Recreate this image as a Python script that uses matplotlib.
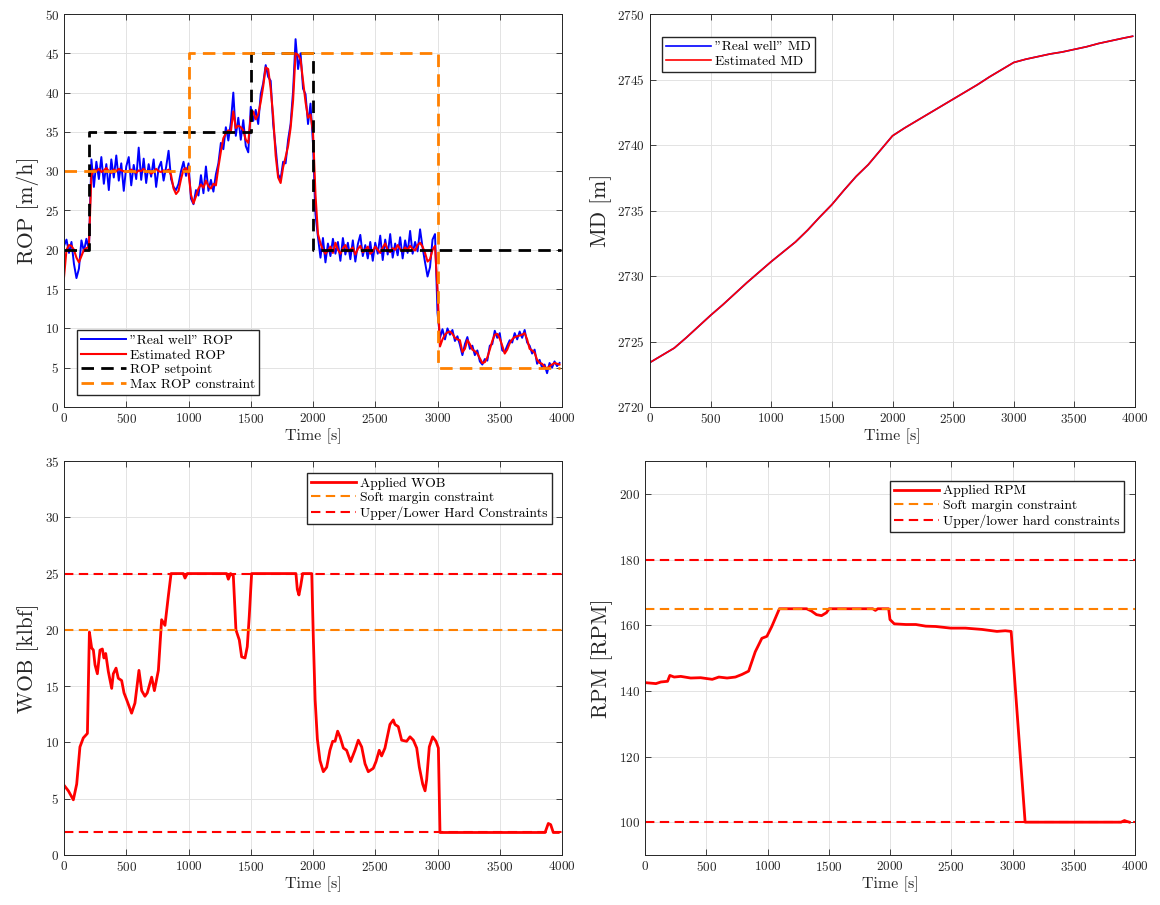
import numpy as np
import matplotlib
matplotlib.use("Agg")
import matplotlib.pyplot as plt

plt.rcParams['font.family'] = 'cmr10'
plt.rcParams['mathtext.fontset'] = 'cm'
plt.rcParams['axes.formatter.use_mathtext'] = True

# ---------------------------------------------------------------
# ROP: sampled every 20 s
# ---------------------------------------------------------------
t_rop = np.arange(0, 4000, 20)

rop_real = [
    20.5, 21.3, 19.6, 21.0, 18.2, 16.4, 17.6, 21.2, 19.8, 21.4,
    20.0, 31.5, 28.0, 31.2, 29.0, 31.8, 28.4, 30.9, 27.6, 31.5,
    29.2, 32.0, 28.8, 31.0, 27.5, 30.6, 31.8, 28.2, 30.8, 29.0,
    33.0, 28.9, 31.6, 28.5, 30.9, 29.3, 31.5, 28.0, 30.4, 31.2,
    28.8, 30.5, 32.6, 29.0, 28.0, 27.6, 28.4, 30.0, 31.2, 29.4,
    31.0, 26.5, 25.8, 27.6, 26.9, 29.5, 27.2, 30.6, 27.5, 28.9,
    27.4, 29.6, 31.0, 33.6, 32.8, 35.6, 33.9, 36.2, 40.0, 34.5,
    36.8, 34.0, 36.5, 33.2, 32.4, 38.2, 36.4, 37.8, 36.0, 39.8,
    41.2, 43.5, 42.0, 41.5, 36.0, 33.0, 29.6, 29.0, 31.2, 31.0,
    34.0, 36.0, 40.2, 46.8, 43.0, 45.0, 40.5, 39.8, 36.0, 38.6,
    33.5, 24.5, 21.6, 19.0, 21.5, 18.4, 20.8, 19.2, 21.4, 19.5,
    21.0, 18.6, 21.5, 19.4, 20.9, 18.8, 21.2, 18.5, 20.7, 21.9,
    19.2, 20.6, 18.9, 21.0, 18.6, 20.9, 19.5, 21.8, 18.7, 21.3,
    19.4, 22.0, 19.0, 20.8, 19.3, 21.6, 18.9, 21.2, 19.6, 22.4,
    19.5, 21.0, 19.8, 22.6, 20.3, 18.4, 16.6, 17.8, 21.3, 22.0,
    12.0, 8.8, 9.9, 8.6, 10.0, 9.2, 9.8, 8.4, 9.0, 7.9,
    6.6, 8.0, 8.9, 7.4, 7.8, 6.6, 7.2, 5.8, 5.4, 6.1,
    5.9, 7.8, 8.0, 9.7, 8.8, 9.4, 7.2, 7.0, 7.8, 8.5,
    8.2, 9.4, 8.6, 9.6, 8.8, 9.8, 8.2, 7.8, 6.8, 7.3,
    5.5, 6.0, 5.0, 5.4, 4.3, 5.6, 5.0, 5.8, 5.2, 5.6,
]

rop_est = [
    16.5, 20.0, 20.6, 20.5, 20.0, 19.0, 18.4, 19.2, 20.0, 20.2,
    20.4, 29.5, 30.2, 30.0, 30.3, 29.9, 30.1, 30.4, 30.0, 29.8,
    30.2, 30.0, 30.3, 30.1, 30.0, 29.9, 30.0, 30.2, 30.0, 29.8,
    30.1, 30.0, 30.3, 29.9, 30.0, 29.7, 29.9, 30.3, 30.0, 29.9,
    30.1, 30.0, 30.2, 29.5, 27.8, 27.1, 27.5, 29.0, 30.2, 30.4,
    29.8, 27.0, 25.9, 26.8, 27.8, 28.3, 27.9, 28.8, 28.1, 27.8,
    28.4, 28.2, 30.5, 32.5, 34.2, 34.8, 35.2, 35.0, 37.6, 35.5,
    35.8, 35.6, 35.2, 34.0, 33.6, 37.0, 37.6, 36.6, 37.2, 38.8,
    40.8, 43.2, 43.0, 40.5, 37.0, 32.0, 29.2, 28.5, 30.5, 31.8,
    33.2, 35.5, 39.0, 45.0, 44.8, 44.2, 41.5, 38.8, 36.8, 37.2,
    35.0, 27.0, 22.0, 20.8, 20.0, 19.5, 19.9, 20.4, 19.6, 20.9,
    20.0, 19.5, 20.2, 20.6, 19.8, 20.0, 20.3, 19.4, 20.1, 20.5,
    19.7, 20.0, 20.4, 19.5, 19.8, 20.4, 20.0, 19.6, 20.3, 20.8,
    20.0, 19.7, 20.2, 20.0, 20.6, 20.1, 19.8, 20.3, 20.0, 20.5,
    20.1, 19.9, 20.6, 20.9, 20.4, 19.6, 18.5, 18.8, 20.0, 20.5,
    15.0, 7.7, 8.6, 9.2, 9.5, 9.6, 9.3, 8.8, 8.6, 8.5,
    7.0, 7.4, 8.5, 8.0, 7.3, 7.1, 6.8, 6.2, 5.6, 5.7,
    6.3, 7.3, 8.4, 9.2, 9.3, 8.7, 7.8, 6.8, 7.3, 8.1,
    8.6, 8.9, 9.0, 9.1, 9.2, 9.4, 8.6, 7.4, 7.2, 6.9,
    6.0, 5.6, 5.5, 5.1, 4.9, 5.2, 5.4, 5.6, 5.5, 5.4,
]

# piecewise-constant references (value holds until next time)
t_setpoint = [0, 200, 1500, 2000, 3990]
rop_setpoint = [20, 35, 45, 20, 20]
t_maxrop = [0, 1000, 3000, 3980]
rop_max = [30, 45, 5, 5]

# ---------------------------------------------------------------
# Measured depth
# ---------------------------------------------------------------
t_md = [0, 100, 200, 300, 400, 500, 600, 700, 800, 900,
        1000, 1100, 1200, 1300, 1400, 1500, 1600, 1700, 1800, 1900,
        2000, 2100, 2200, 2300, 2400, 2500, 2600, 2700, 2800, 2900,
        3000, 3100, 3200, 3300, 3400, 3500, 3600, 3700, 3800, 3900, 3980]
md_real = [2723.4, 2723.95, 2724.5, 2725.3, 2726.15, 2727.0, 2727.8, 2728.65, 2729.5, 2730.3,
           2731.1, 2731.85, 2732.6, 2733.5, 2734.5, 2735.45, 2736.55, 2737.6, 2738.5, 2739.6,
           2740.7, 2741.3, 2741.85, 2742.4, 2742.95, 2743.5, 2744.05, 2744.6, 2745.2, 2745.75,
           2746.3, 2746.55, 2746.75, 2746.95, 2747.1, 2747.3, 2747.5, 2747.75, 2747.95, 2748.15, 2748.3]
md_est = list(md_real)

# ---------------------------------------------------------------
# Weight on bit
# ---------------------------------------------------------------
t_wob = [0, 35, 75, 102, 128, 155, 188, 204, 222, 236,
         249, 268, 289, 308, 321, 335, 356, 383, 396, 418,
         436, 463, 482, 503, 543, 570, 602, 624, 650, 669,
         704, 726, 758, 784, 811, 838, 860, 958, 972, 990,
         1306, 1320, 1338, 1360, 1381, 1408, 1427, 1454, 1472, 1488,
         1507, 1863, 1874, 1887, 1901, 1917, 1990, 2003, 2017, 2035,
         2056, 2083, 2110, 2136, 2158, 2177, 2198, 2217, 2244, 2270,
         2302, 2337, 2364, 2391, 2418, 2444, 2484, 2506, 2532, 2551,
         2578, 2618, 2645, 2658, 2685, 2712, 2752, 2779, 2806, 2833,
         2854, 2881, 2900, 2913, 2934, 2961, 2988, 3007, 3020, 3864,
         3890, 3909, 3930, 3970]
wob = [6.2, 5.7, 4.9, 6.3, 9.6, 10.4, 10.8, 19.8, 18.4, 18.2,
       16.9, 16.1, 18.2, 18.3, 17.5, 17.9, 16.3, 14.8, 16.1, 16.6,
       15.7, 15.5, 14.4, 13.8, 12.6, 13.5, 16.4, 14.6, 14.1, 14.4,
       15.8, 14.6, 16.4, 20.9, 20.4, 23.0, 25.0, 25.0, 24.6, 25.0,
       25.0, 24.5, 25.0, 24.8, 20.0, 19.1, 17.6, 17.5, 18.5, 21.2,
       25.0, 25.0, 23.6, 23.1, 23.9, 25.0, 25.0, 19.1, 13.8, 10.3,
       8.4, 7.4, 7.8, 9.3, 10.1, 10.1, 11.0, 10.5, 9.5, 9.3,
       8.3, 9.3, 10.2, 9.6, 8.1, 7.4, 7.7, 8.3, 9.3, 8.8,
       9.5, 11.6, 12.0, 11.6, 11.4, 10.2, 10.1, 10.5, 10.2, 9.5,
       7.8, 6.3, 5.7, 6.7, 9.6, 10.5, 10.1, 9.5, 2.0, 2.0,
       2.8, 2.7, 2.0, 2.0]
wob_soft = 20
wob_hard = [2, 25]

# ---------------------------------------------------------------
# Rotary speed
# ---------------------------------------------------------------
t_rpm = [0, 89, 130, 184, 203, 238, 292, 373, 454, 549,
         603, 670, 738, 792, 846, 900, 954, 995, 1035, 1097,
         1319, 1359, 1400, 1441, 1481, 1503, 1859, 1881, 1900, 1989,
         2000, 2035, 2130, 2211, 2292, 2373, 2495, 2616, 2751, 2873,
         2941, 2989, 3103, 3886, 3914, 3927, 3954]
rpm = [142.5, 142.2, 142.7, 142.9, 144.7, 144.2, 144.4, 143.9, 144.0, 143.5,
       144.2, 143.9, 144.2, 145.0, 146.0, 151.9, 156.0, 156.6, 159.6, 165.0,
       165.0, 164.3, 163.2, 162.9, 163.8, 165.0, 165.0, 164.5, 165.0, 165.0,
       161.7, 160.4, 160.2, 160.2, 159.7, 159.6, 159.1, 159.1, 158.7, 158.1,
       158.3, 158.1, 100.0, 100.0, 100.5, 100.3, 100.0]
rpm_soft = 165
rpm_hard = [100, 180]

# ---------------------------------------------------------------
BLUE = (0, 0, 1)
RED = (1, 0, 0)
ORANGE = (1, 0.5, 0)
DARK = '#262626'
DASH = (4.5, 2.6)
W, H = 1160, 905

fig = plt.figure(figsize=(W / 100, H / 100), dpi=100)


def matlab_ax(rect):
    ax = fig.add_axes(rect)
    ax.grid(True, color='#e3e3e3', lw=0.7)
    ax.set_axisbelow(True)
    ax.tick_params(direction='in', top=True, right=True, labelsize=9.5,
                   colors=DARK, length=4, width=0.6)
    for sp in ax.spines.values():
        sp.set_edgecolor(DARK)
        sp.set_linewidth(0.7)
    ax.set_xlim(0, 4000)
    ax.set_xticks(np.arange(0, 4001, 500))
    ax.set_xlabel('Time [s]', fontsize=11.5, color=DARK, labelpad=2)
    return ax


def px_rect(x0, x1, y0, y1):
    return [x0 / W, 1 - y1 / H, (x1 - x0) / W, (y1 - y0) / H]


leg_kw = dict(fontsize=9.8, fancybox=False, framealpha=1, edgecolor=DARK,
              handlelength=3.3, handletextpad=0.3, labelspacing=0.15,
              borderpad=0.3, borderaxespad=0)

# ROP
ax1 = matlab_ax(px_rect(64, 562, 14, 407))
ax1.plot(t_rop, rop_real, color=BLUE, lw=1.4, label='"Real well" ROP')
ax1.plot(t_rop, rop_est, color=RED, lw=1.5, label='Estimated ROP')
ax1.plot(t_setpoint, rop_setpoint, color='k', lw=2, ls='--', dashes=DASH,
         drawstyle='steps-post', label='ROP setpoint')
ax1.plot(t_maxrop, rop_max, color=ORANGE, lw=2, ls='--', dashes=DASH,
         drawstyle='steps-post', label='Max ROP constraint')
ax1.set_ylim(0, 50)
ax1.set_yticks(np.arange(0, 51, 5))
ax1.set_ylabel('ROP [m/h]', fontsize=15.5, color=DARK)
ax1.legend(loc='lower left', bbox_to_anchor=(0.026, 0.031), **leg_kw)

# MD
ax2 = matlab_ax(px_rect(650, 1135, 14, 407))
ax2.plot(t_md, md_real, color=BLUE, lw=1.2, label='"Real well" MD')
ax2.plot(t_md, md_est, color=RED, lw=1.2, label='Estimated MD')
ax2.set_ylim(2720, 2750)
ax2.set_yticks(np.arange(2720, 2751, 5))
ax2.set_ylabel('MD [m]', fontsize=15.5, color=DARK)
ax2.legend(loc='upper left', bbox_to_anchor=(0.025, 0.942), **leg_kw)

# WOB
ax3 = matlab_ax(px_rect(64, 562, 461, 855))
ax3.plot(t_wob, wob, color=RED, lw=2, label='Applied WOB')
ax3.plot([0, 4000], [wob_soft] * 2, color=ORANGE, lw=1.5, ls='--', dashes=DASH,
         label='Soft margin constraint')
ax3.plot([0, 4000], [wob_hard[1]] * 2, color=RED, lw=1.5, ls='--', dashes=DASH,
         label='Upper/Lower Hard Constraints')
ax3.plot([0, 4000], [wob_hard[0]] * 2, color=RED, lw=1.5, ls='--', dashes=DASH)
ax3.set_ylim(0, 35)
ax3.set_yticks(np.arange(0, 36, 5))
ax3.set_ylabel('WOB [klbf]', fontsize=15.5, color=DARK)
ax3.legend(loc='upper right', bbox_to_anchor=(0.98, 0.97), **leg_kw)

# RPM
ax4 = matlab_ax(px_rect(645, 1135, 461, 855))
ax4.plot(t_rpm, rpm, color=RED, lw=2, label='Applied RPM')
ax4.plot([0, 4000], [rpm_soft] * 2, color=ORANGE, lw=1.5, ls='--', dashes=DASH,
         label='Soft margin constraint')
ax4.plot([0, 4000], [rpm_hard[1]] * 2, color=RED, lw=1.5, ls='--', dashes=DASH,
         label='Upper/lower hard constraints')
ax4.plot([0, 4000], [rpm_hard[0]] * 2, color=RED, lw=1.5, ls='--', dashes=DASH)
ax4.set_ylim(90, 210)
ax4.set_yticks(np.arange(100, 201, 20))
ax4.set_ylabel('RPM [RPM]', fontsize=15.5, color=DARK)
ax4.legend(loc='upper right', bbox_to_anchor=(0.977, 0.95), **leg_kw)

fig.savefig('out.png', dpi=100, facecolor='white')
